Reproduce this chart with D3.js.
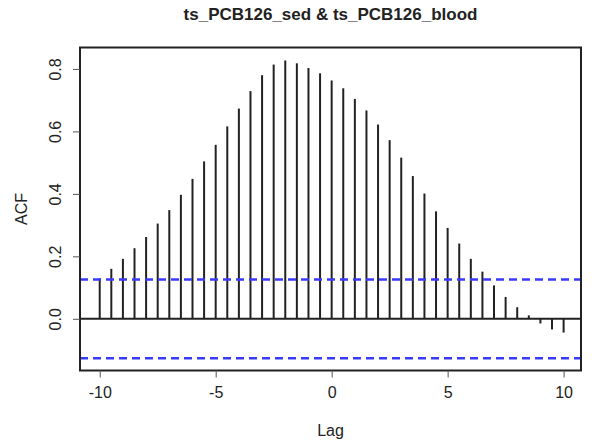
<!DOCTYPE html>
<html>
<head>
<meta charset="utf-8">
<script src="https://cdn.jsdelivr.net/npm/d3@7"></script>
<style>
  html, body { margin: 0; padding: 0; background: #fff; }
  svg { display: block; }
  text { font-family: Arial, "Liberation Sans", sans-serif; fill: #222; }
</style>
</head>
<body>
<svg id="chart" width="597" height="446"></svg>
<script>
// ---- data ----
const lags = [-10, -9.5, -9, -8.5, -8, -7.5, -7, -6.5, -6, -5.5, -5, -4.5, -4, -3.5, -3, -2.5, -2, -1.5, -1, -0.5,
              0, 0.5, 1, 1.5, 2, 2.5, 3, 3.5, 4, 4.5, 5, 5.5, 6, 6.5, 7, 7.5, 8, 8.5, 9, 9.5, 10];
const acf = [0.130, 0.160, 0.192, 0.226, 0.262, 0.305, 0.348, 0.397, 0.448, 0.504, 0.557, 0.616, 0.673, 0.729, 0.780, 0.814, 0.827, 0.818, 0.803, 0.786,
             0.763, 0.738, 0.704, 0.667, 0.622, 0.572, 0.516, 0.457, 0.401, 0.344, 0.291, 0.241, 0.192, 0.151, 0.107, 0.070, 0.037, 0.011, -0.015, -0.034, -0.044];
const confLimits = [0.126, -0.126];
const xTicks = [-10, -5, 0, 5, 10];
const yTicks = [0.0, 0.2, 0.4, 0.6, 0.8];
const title = "ts_PCB126_sed & ts_PCB126_blood";
const xLabel = "Lag";
const yLabel = "ACF";

// ---- layout ----
const svg = d3.select("#chart");
const box = { left: 80, right: 581, top: 47.5, bottom: 370.5 };

const x = d3.scaleLinear().domain([-10.85, 10.75]).range([box.left, box.right]);
const y = d3.scaleLinear().domain([-0.1655, 0.8686]).range([box.bottom, box.top]);

// bars
svg.append("g").selectAll("line")
  .data(lags.map((l, i) => ({ lag: l, v: acf[i] })))
  .join("line")
  .attr("x1", d => x(d.lag)).attr("x2", d => x(d.lag))
  .attr("y1", y(0)).attr("y2", d => y(d.v))
  .attr("stroke", "#222").attr("stroke-width", 2);

// zero line
svg.append("line")
  .attr("x1", box.left).attr("x2", box.right)
  .attr("y1", y(0)).attr("y2", y(0))
  .attr("stroke", "#222").attr("stroke-width", 2);

// confidence limits
svg.append("g").selectAll("line")
  .data(confLimits)
  .join("line")
  .attr("x1", box.left).attr("x2", box.right)
  .attr("y1", d => y(d)).attr("y2", d => y(d))
  .attr("stroke", "#3a3aff").attr("stroke-width", 2.5)
  .attr("stroke-dasharray", "8,5");

// frame
svg.append("rect")
  .attr("x", box.left).attr("y", box.top)
  .attr("width", box.right - box.left).attr("height", box.bottom - box.top)
  .attr("fill", "none").attr("stroke", "#222").attr("stroke-width", 2);

// x axis
const xAxis = d3.axisBottom(x).tickValues(xTicks).tickSize(7).tickPadding(9)
  .tickFormat(d => d3.format("d")(d).replace("−", "-"));
const gx = svg.append("g").attr("transform", `translate(0,${box.bottom})`).call(xAxis);
gx.select(".domain").remove();
gx.selectAll(".tick line").attr("stroke", "#555").attr("stroke-width", 1);
gx.selectAll(".tick text").attr("font-size", 16).attr("fill", "#222")
  .attr("font-family", "Arial, 'Liberation Sans', sans-serif");

// y axis
const yAxis = d3.axisLeft(y).tickValues(yTicks).tickSize(7).tickFormat(d3.format(".1f"));
const gy = svg.append("g").attr("transform", `translate(${box.left},0)`).call(yAxis);
gy.select(".domain").remove();
gy.selectAll(".tick line").attr("stroke", "#555").attr("stroke-width", 1);
gy.selectAll(".tick text")
  .attr("font-size", 16).attr("fill", "#222")
  .attr("font-family", "Arial, 'Liberation Sans', sans-serif")
  .attr("x", null).attr("dy", null)
  .attr("text-anchor", "middle")
  .attr("transform", "translate(-19,0) rotate(-90)");

// title
svg.append("text")
  .attr("x", (box.left + box.right) / 2).attr("y", 20)
  .attr("text-anchor", "middle")
  .attr("font-size", 17).attr("font-weight", "bold")
  .text(title);

// axis labels
svg.append("text")
  .attr("x", (box.left + box.right) / 2).attr("y", 436)
  .attr("text-anchor", "middle").attr("font-size", 16)
  .text(xLabel);

svg.append("text")
  .attr("transform", `translate(27,${(box.top + box.bottom) / 2}) rotate(-90)`)
  .attr("text-anchor", "middle").attr("font-size", 16)
  .text(yLabel);
</script>
</body>
</html>
